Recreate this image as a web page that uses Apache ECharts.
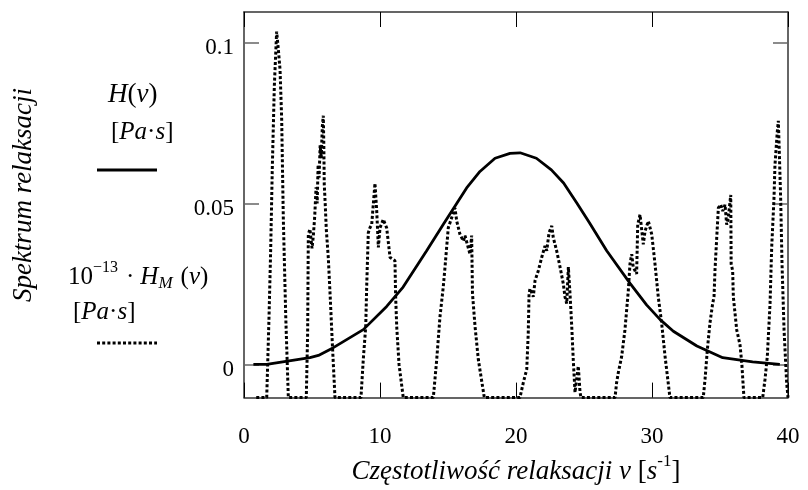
<!DOCTYPE html>
<html>
<head>
<meta charset="utf-8">
<script src="https://cdn.jsdelivr.net/npm/echarts@6/dist/echarts.min.js"></script>
<style>html,body{margin:0;padding:0;background:#fff}#c{width:808px;height:490px}</style>
</head>
<body>
<div id="c"></div>
<script>
// Solid curve H(nu)
const nuH = [0.69, 1.67, 4.85, 5.47, 6.57, 8.77, 10.49, 11.7, 13.43, 14.66, 16.37, 17.35, 18.46, 19.56, 20.3, 21.5, 22.6, 23.5, 24.46, 25.4, 26.67, 28.4, 29.6, 30.6, 31.57, 33.3, 35.2, 37.4, 39.4];
const valH = [0.0, 0.0, 0.0021, 0.0028, 0.0052, 0.0108, 0.018, 0.024, 0.0353, 0.0435, 0.0548, 0.0599, 0.064, 0.0655, 0.0657, 0.064, 0.0604, 0.0563, 0.0502, 0.044, 0.0353, 0.0251, 0.0185, 0.0139, 0.0103, 0.0057, 0.0021, 0.0008, 0.0];

// Dotted curve 1e-13 * H_M(nu)
const nuHM = [
  0.9, 1.67, 1.84, 1.96, 2.08, 2.23, 2.40, 2.52, 2.65, 2.77, 2.89, 3.07, 3.26,
  4.58, 4.68, 4.73, 4.85, 5.0, 5.1, 5.2, 5.3, 5.38, 5.45, 5.52, 5.6, 5.68, 5.76, 5.83, 5.87, 5.9, 5.97, 6.05, 6.2, 6.35, 6.5, 6.69,
  8.60, 8.77, 8.95, 9.02, 9.14, 9.26, 9.39, 9.63, 9.76, 9.88, 10.0, 10.24, 10.49, 10.74, 11.10, 11.15, 11.23, 11.40, 11.71,
  13.92, 14.17, 14.41, 14.65, 14.78, 15.02, 15.27, 15.51, 15.64, 15.88, 16.13, 16.25, 16.42, 16.62, 16.74, 16.80, 16.99, 17.23, 17.67,
  20.29, 20.54, 20.79, 20.9, 20.96, 21.03, 21.27, 21.40, 21.64, 21.89, 22.13, 22.26, 22.43, 22.63, 22.74, 22.99, 23.24, 23.48, 23.60, 23.73, 23.85, 23.97, 24.10, 24.21, 24.34, 24.58, 24.71, 24.78,
  27.28, 27.40, 27.52, 27.77, 28.01, 28.26, 28.38, 28.51, 28.62, 28.87, 28.95, 29.12, 29.24, 29.36, 29.49, 29.73, 29.98, 30.22, 30.46, 30.71, 30.96, 31.32,
  33.77, 33.90, 34.07, 34.26, 34.46, 34.56, 34.63, 34.76, 34.88, 35.05, 35.20, 35.37, 35.49, 35.61, 35.79, 35.82, 35.93, 35.98, 36.23, 36.47, 36.60, 36.76,
  38.14, 38.31, 38.48, 38.68, 38.80, 38.97, 39.04, 39.21, 39.29, 39.36, 39.46, 39.56, 39.71, 39.90, 40.0
];
const valHM = [
  -0.0103, -0.0103, 0.0148, 0.0354, 0.0608, 0.0864, 0.1033, 0.098, 0.0915, 0.0762, 0.0455, 0.0148, -0.0103,
  -0.0103, 0.010, 0.0404, 0.042, 0.036, 0.040, 0.046, 0.055, 0.050, 0.062, 0.058, 0.068, 0.064, 0.074, 0.0772, 0.068, 0.056, 0.050, 0.042, 0.033, 0.020, 0.006, -0.0103,
  -0.0103, 0.0015, 0.0117, 0.024, 0.0409, 0.0424, 0.0434, 0.0562, 0.0475, 0.0363, 0.0424, 0.045, 0.0424, 0.0332, 0.0322, 0.021, 0.0117, 0.0, -0.0103,
  -0.0103, 0.0015, 0.0148, 0.024, 0.0302, 0.0424, 0.0455, 0.0486, 0.0445, 0.0404, 0.0383, 0.040, 0.0373, 0.0342, 0.040, 0.022, 0.0117, 0.0015, -0.0103,
  -0.0103, -0.0056, -0.0015, 0.0097, 0.022, 0.0235, 0.021, 0.026, 0.0291, 0.0332, 0.0368, 0.0353, 0.0409, 0.043, 0.0394, 0.0353, 0.0302, 0.025, 0.021, 0.0189, 0.0302, 0.022, 0.0117, 0.0015, -0.0087, -0.0005, -0.0087, -0.0103,
  -0.0103, -0.0056, -0.0026, 0.0025, 0.0107, 0.023, 0.0312, 0.0342, 0.0302, 0.0281, 0.0434, 0.0465, 0.046, 0.0373, 0.0414, 0.0445, 0.0404, 0.0312, 0.021, 0.0128, 0.0025, -0.0103,
  -0.0103, -0.0046, 0.0046, 0.0128, 0.0189, 0.021, 0.0291, 0.0394, 0.0486, 0.0496, 0.0476, 0.0496, 0.0434, 0.0455, 0.0526, 0.0312, 0.0291, 0.021, 0.0107, 0.0061, 0.0005, -0.0103,
  -0.0103, -0.0046, 0.0025, 0.0189, 0.0363, 0.0516, 0.0618, 0.0721, 0.0756, 0.066, 0.0516, 0.0312, 0.0107, -0.0056, -0.0103
];

const xTicks = [0, 10, 20, 30, 40];
const yTicks = [0, 0.05, 0.1];
const xRange = [0, 40];
const yRange = [-0.0103, 0.1094];

const FONT = "'Liberation Serif', 'Times New Roman', serif";
function rich(size) {
  return {
    n: { fontFamily: FONT, fontSize: size, color: '#000' },
    i: { fontFamily: FONT, fontSize: size, fontStyle: 'italic', color: '#000' },
    ip: { fontFamily: FONT, fontSize: size, fontStyle: 'italic', color: '#000', padding: [0, 0, 0, 6] },
    np: { fontFamily: FONT, fontSize: size, color: '#000', padding: [0, 0, 0, 8] },
    sup: { fontFamily: FONT, fontSize: Math.round(size * 0.62), color: '#000', padding: [0, 0, Math.round(size * 0.7), 0] },
    sub: { fontFamily: FONT, fontSize: Math.round(size * 0.66), fontStyle: 'italic', color: '#000', padding: [Math.round(size * 0.5), 0, 0, 0] }
  };
}
const richAxis = rich(27);
const richLeg = rich(25);

const chart = echarts.init(document.getElementById('c'), null, { renderer: 'canvas' });

const boxLine = { show: true, onZero: false, lineStyle: { color: '#333', width: 1.5 } };

chart.setOption({
  animation: false,
  backgroundColor: '#fff',
  grid: { left: 244, right: 20, top: 12, bottom: 88, containLabel: false },
  xAxis: [
    {
      type: 'value', min: xRange[0], max: xRange[1], interval: 10, position: 'bottom',
      axisLine: boxLine,
      axisTick: { show: true, inside: true, length: 15, lineStyle: { color: '#000', width: 1 }, customValues: xTicks },
      axisLabel: { show: true, customValues: xTicks, margin: 28, fontFamily: FONT, fontSize: 23, color: '#000' },
      splitLine: { show: false },
      name: '{i|Częstotliwość relaksacji v} {n|[}{i|s}{sup|-1}{n|]}',
      nameLocation: 'middle', nameGap: 50,
      nameTextStyle: { rich: richAxis, fontFamily: FONT, fontSize: 27 }
    },
    {
      type: 'value', min: xRange[0], max: xRange[1], interval: 10, position: 'top',
      axisLine: boxLine,
      axisTick: { show: true, inside: true, length: 15, lineStyle: { color: '#000', width: 1 }, customValues: xTicks },
      axisLabel: { show: false }, splitLine: { show: false }
    }
  ],
  yAxis: [
    {
      type: 'value', min: yRange[0], max: yRange[1], position: 'left',
      axisLine: boxLine,
      axisTick: { show: true, inside: true, length: 15, lineStyle: { color: '#666', width: 1.5 }, customValues: yTicks },
      axisLabel: { show: true, customValues: yTicks, margin: 10, fontFamily: FONT, fontSize: 23, color: '#000',
        formatter: v => String(v), verticalAlign: 'top', lineHeight: 12 },
      splitLine: { show: false }
    },
    {
      type: 'value', min: yRange[0], max: yRange[1], position: 'right',
      axisLine: boxLine,
      axisTick: { show: true, inside: true, length: 15, lineStyle: { color: '#666', width: 1.5 }, customValues: yTicks },
      axisLabel: { show: false }, splitLine: { show: false }
    }
  ],
  series: [
    {
      name: 'H', type: 'line', xAxisIndex: 0, yAxisIndex: 0,
      data: nuH.map((v, k) => [v, valH[k]]),
      showSymbol: false, symbol: 'none', smooth: false, clip: true,
      lineStyle: { color: '#000', width: 2.8 }
    },
    {
      name: 'HM', type: 'line', xAxisIndex: 0, yAxisIndex: 0,
      data: nuHM.map((v, k) => [v, valHM[k]]),
      showSymbol: false, symbol: 'none', smooth: false, clip: true,
      lineStyle: { color: '#000', width: 3, type: [3, 2.2] }
    }
  ],
  graphic: [
    { type: 'text', x: 24, y: 195, rotation: Math.PI / 2,
      style: { text: 'Spektrum relaksacji', font: "italic 27px " + FONT, fill: '#000', align: 'center', verticalAlign: 'middle' } },
    { type: 'text', x: 108, y: 95,
      style: { text: '{i|H}{n|(}{i|ν}{n|)}', rich: rich(27), verticalAlign: 'middle', align: 'left' } },
    { type: 'text', x: 111, y: 132,
      style: { text: '{n|[}{i|Pa}{n|·}{i|s}{n|]}', rich: richLeg, verticalAlign: 'middle', align: 'left' } },
    { type: 'line', shape: { x1: 97, y1: 170, x2: 157, y2: 170 }, style: { stroke: '#000', lineWidth: 2.8 } },
    { type: 'text', x: 68, y: 277,
      style: { text: '{n|10}{sup|−13}{np|·}{ip|H}{sub|M}{np|(}{i|ν}{n|)}', rich: richLeg, verticalAlign: 'middle', align: 'left' } },
    { type: 'text', x: 73, y: 312,
      style: { text: '{n|[}{i|Pa}{n|·}{i|s}{n|]}', rich: richLeg, verticalAlign: 'middle', align: 'left' } },
    { type: 'line', shape: { x1: 97, y1: 343, x2: 157, y2: 343 }, style: { stroke: '#000', lineWidth: 3, lineDash: [3, 2.2] } }
  ]
});
</script>
</body>
</html>
